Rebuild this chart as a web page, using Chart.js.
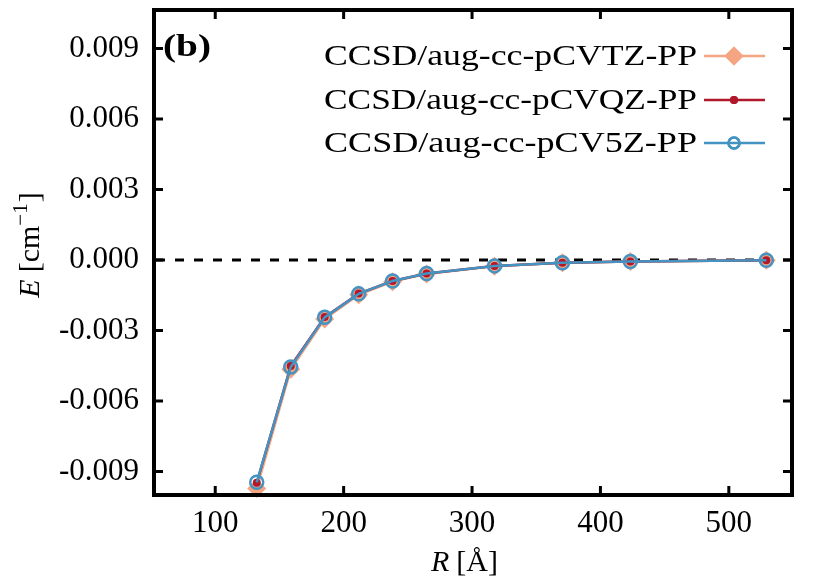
<!DOCTYPE html>
<html>
<head>
<meta charset="utf-8">
<script src="https://cdn.jsdelivr.net/npm/chart.js@4/dist/chart.umd.min.js"></script>
<style>
  html, body { margin: 0; padding: 0; background: #fff; }
  #chart { display: block; }
</style>
</head>
<body>
<canvas id="chart" width="830" height="581"></canvas>
<script>
// R in Angstrom (250..1000 bohr)
const rValues = [132.3, 158.8, 185.2, 211.7, 238.1, 264.6, 317.5, 370.4, 423.3, 529.2];
const eTZ = [-0.00972, -0.00465, -0.00251, -0.00148, -0.00092, -0.00059, -0.00026, -0.00012, -0.00006, -0.00001];
const eQZ = [-0.00948, -0.00451, -0.00243, -0.00143, -0.00089, -0.00057, -0.00025, -0.00012, -0.00006, -0.00001];
const e5Z = [-0.00946, -0.00455, -0.00244, -0.00144, -0.00089, -0.00057, -0.00025, -0.00012, -0.00006, -0.00001];
const seriesLabels = ['CCSD/aug-cc-pCVTZ-PP', 'CCSD/aug-cc-pCVQZ-PP', 'CCSD/aug-cc-pCV5Z-PP'];
const xTicks = [100, 200, 300, 400, 500];
const yTicks = [-0.009, -0.006, -0.003, 0.000, 0.003, 0.006, 0.009];
const zeroLine = 0;
const panelLabel = '(b)';

const serif = '"Liberation Serif", "DejaVu Serif", serif';

function toPoints(ys) {
  return rValues.map((r, i) => ({ x: r, y: ys[i] }));
}

const datasets = [
  {
    label: seriesLabels[0],
    data: toPoints(eTZ),
    borderColor: '#f4a582',
    backgroundColor: '#f4a582',
    borderWidth: 2.5,
    pointStyle: 'rectRot',
    pointRadius: 9.5,
    pointBorderWidth: 0,
    order: 3,
  },
  {
    label: seriesLabels[1],
    data: toPoints(eQZ),
    borderColor: '#b2182b',
    backgroundColor: '#b2182b',
    borderWidth: 2.5,
    pointStyle: 'circle',
    pointRadius: 4,
    pointBorderWidth: 0,
    order: 2,
  },
  {
    label: seriesLabels[2],
    data: toPoints(e5Z),
    borderColor: '#4393c3',
    backgroundColor: 'rgba(0,0,0,0)',
    borderWidth: 2.5,
    pointStyle: 'circle',
    pointRadius: 6.5,
    pointBorderWidth: 2.5,
    pointBorderColor: '#4393c3',
    order: 1,
  },
];
datasets.forEach(d => { d.clip = false; d.tension = 0; d.fill = false; });

// dashed zero line under the data
const zeroPlugin = {
  id: 'zero',
  beforeDatasetsDraw(chart) {
    const { ctx, chartArea, scales } = chart;
    const y = scales.y.getPixelForValue(zeroLine);
    ctx.save();
    ctx.strokeStyle = '#000';
    ctx.lineWidth = 3;
    ctx.setLineDash([9, 10]);
    ctx.beginPath();
    ctx.moveTo(chartArea.left + 2, y);
    ctx.lineTo(chartArea.right - 2, y);
    ctx.stroke();
    ctx.restore();
  }
};

// frame, inward ticks, legend, axis titles
const framePlugin = {
  id: 'frame',
  afterDatasetsDraw(chart) {
    const { ctx, chartArea: a, scales } = chart;
    ctx.save();
    ctx.strokeStyle = '#000';
    ctx.lineWidth = 3;
    xTicks.forEach(v => {
      const x = scales.x.getPixelForValue(v);
      ctx.beginPath();
      ctx.moveTo(x, a.bottom); ctx.lineTo(x, a.bottom - 9);
      ctx.moveTo(x, a.top); ctx.lineTo(x, a.top + 9);
      ctx.stroke();
    });
    yTicks.forEach(v => {
      const y = scales.y.getPixelForValue(v);
      ctx.beginPath();
      ctx.moveTo(a.left, y); ctx.lineTo(a.left + 9, y);
      ctx.moveTo(a.right, y); ctx.lineTo(a.right - 9, y);
      ctx.stroke();
    });
    ctx.lineWidth = 4;
    ctx.strokeRect(a.left, a.top, a.right - a.left, a.bottom - a.top);
    ctx.restore();
  },
  afterDraw(chart) {
    const { ctx, chartArea: a } = chart;
    ctx.save();
    ctx.fillStyle = '#000';

    // panel label
    ctx.save();
    ctx.font = 'bold 31px ' + serif;
    ctx.textBaseline = 'alphabetic';
    ctx.textAlign = 'left';
    ctx.translate(a.left + 9, 56);
    ctx.scale(48 / ctx.measureText(panelLabel).width, 1);
    ctx.fillText(panelLabel, 0, 0);
    ctx.restore();

    // legend (text right, symbol on the right side)
    const rows = [56, 100, 143];
    chart.data.datasets.forEach((ds, i) => {
      const yc = rows[i];
      ctx.save();
      ctx.font = '30px ' + serif;
      ctx.textBaseline = 'middle';
      const w = ctx.measureText(ds.label).width;
      const target = 373 * (ds.label.length / 20);
      const sx = target / w;
      ctx.translate(697, yc + 1);
      ctx.scale(sx, 1);
      ctx.textAlign = 'right';
      ctx.fillText(ds.label, 0, 0);
      ctx.restore();

      ctx.save();
      ctx.strokeStyle = ds.borderColor;
      ctx.lineWidth = ds.borderWidth;
      ctx.beginPath();
      ctx.moveTo(704, yc); ctx.lineTo(765, yc);
      ctx.stroke();
      ctx.fillStyle = ds.backgroundColor;
      ctx.strokeStyle = ds.pointBorderColor || ds.borderColor;
      ctx.lineWidth = ds.pointBorderWidth || 0.01;
      Chart.helpers.drawPoint(ctx, {
        pointStyle: ds.pointStyle,
        radius: ds.pointStyle === 'circle' && ds.pointBorderWidth ? 5.5 : ds.pointRadius,
        borderWidth: ds.pointBorderWidth,
        rotation: 0,
      }, 734, yc);
      ctx.fill();
      if (ds.pointBorderWidth) ctx.stroke();
      ctx.restore();
    });

    // x axis title: R [Å]
    let x = 431, base = 571;
    ctx.textAlign = 'left';
    ctx.textBaseline = 'alphabetic';
    ctx.font = 'italic 30px ' + serif;
    ctx.fillText('R', x, base);
    x += ctx.measureText('R').width + 7;
    ctx.font = '30px ' + serif;
    ctx.fillText('[Å]', x, base);

    // y axis title: E [cm^-1]
    ctx.translate(39, 245);
    ctx.rotate(-Math.PI / 2);
    ctx.font = 'italic 30px ' + serif;
    const wE = ctx.measureText('E').width;
    ctx.font = '30px ' + serif;
    const wCm = ctx.measureText('[cm').width;
    ctx.font = '21px ' + serif;
    const wSup = ctx.measureText('\u22121').width;
    ctx.font = '30px ' + serif;
    const wBr = ctx.measureText(']').width;
    const total = wE + 7 + wCm + wSup + 1 + wBr;
    let px = -total / 2;
    ctx.font = 'italic 30px ' + serif;
    ctx.fillText('E', px, 0);
    px += wE + 7;
    ctx.font = '30px ' + serif;
    ctx.fillText('[cm', px, 0);
    px += wCm;
    ctx.font = '21px ' + serif;
    ctx.fillText('\u22121', px, -12);
    px += wSup + 1;
    ctx.font = '30px ' + serif;
    ctx.fillText(']', px, 0);
    ctx.restore();
  }
};

const config = {
  type: 'line',
  data: { datasets },
  options: {
    responsive: false,
    animation: false,
    devicePixelRatio: 1,
    layout: { padding: { top: 10, right: 38, left: 0, bottom: 0 } },
    plugins: { legend: { display: false }, tooltip: { enabled: false } },
    scales: {
      x: {
        type: 'linear',
        min: 52.3,
        max: 549.2,
        grid: { display: false, drawTicks: false },
        border: { display: false },
        afterBuildTicks: (scale) => { scale.ticks = xTicks.map(v => ({ value: v })); },
        afterFit: (scale) => {
          scale.height = 86;
          scale.paddingLeft = 0; scale.paddingRight = 0;
        },
        ticks: {
          color: '#000',
          font: { family: serif, size: 31 },
          padding: 10,
          maxRotation: 0,
          callback: (v) => String(v),
        },
      },
      y: {
        type: 'linear',
        min: -0.0100,
        max: 0.01064,
        grid: { display: false, drawTicks: false },
        border: { display: false },
        afterBuildTicks: (scale) => { scale.ticks = yTicks.map(v => ({ value: v })); },
        afterFit: (scale) => {
          scale.width = 154;
          scale.paddingTop = 0; scale.paddingBottom = 0;
        },
        ticks: {
          color: '#000',
          font: { family: serif, size: 31 },
          padding: 15,
          callback: (v) => v.toFixed(3),
        },
      },
    },
  },
  plugins: [zeroPlugin, framePlugin],
};

const myChart = new Chart(document.getElementById('chart'), config);
</script>
</body>
</html>
